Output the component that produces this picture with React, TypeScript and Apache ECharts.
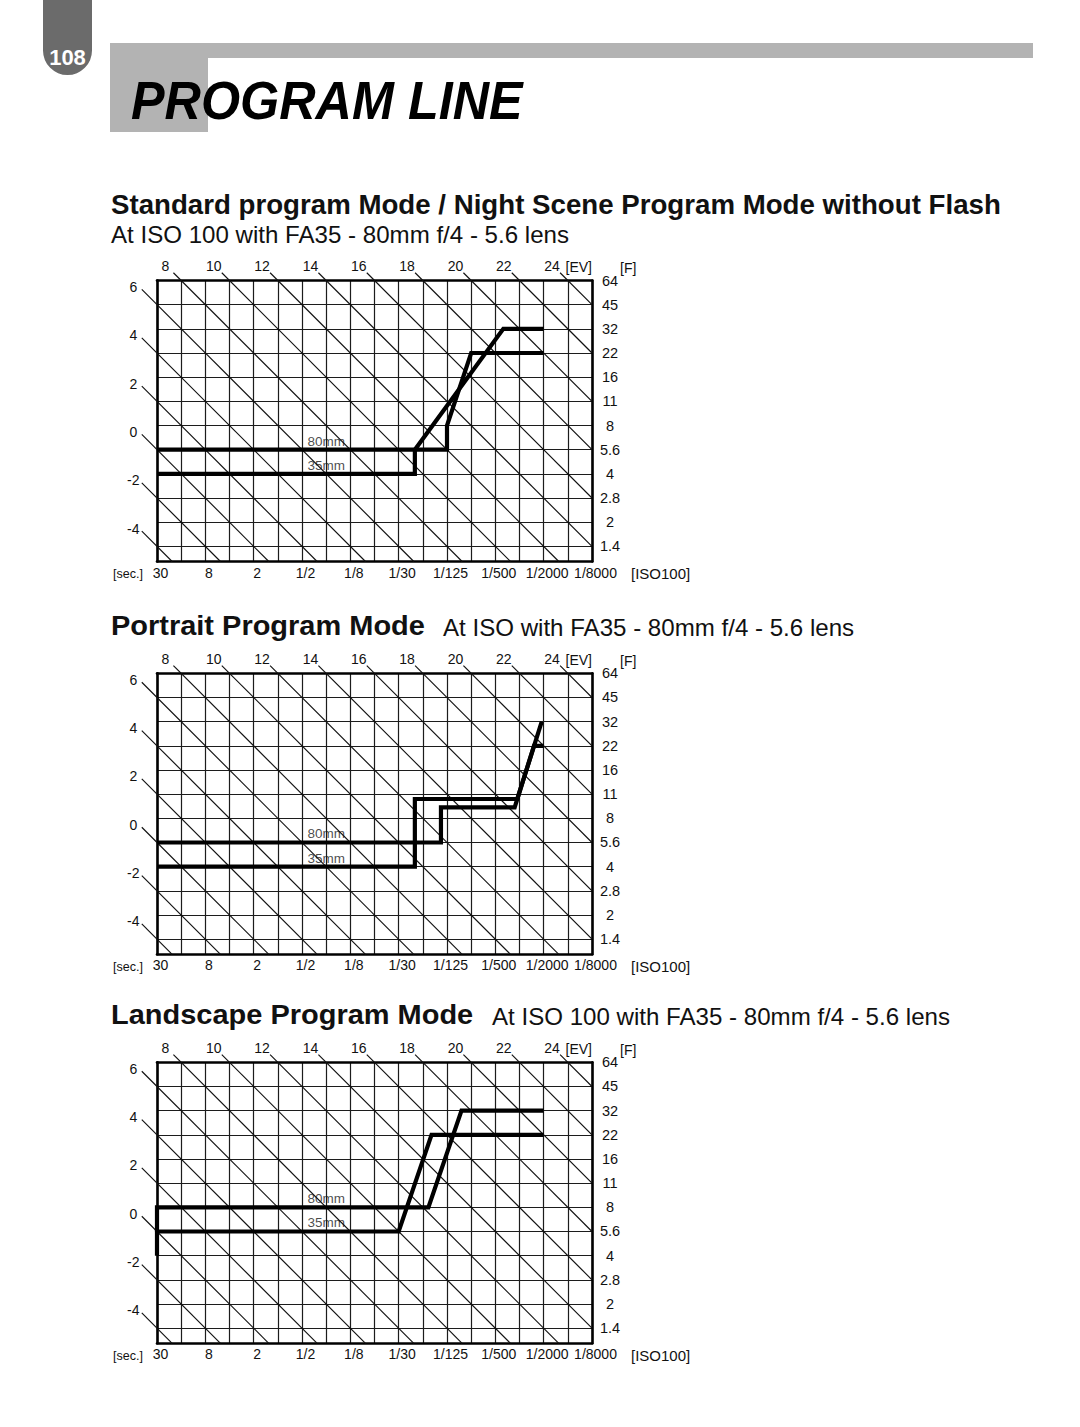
import React, { useEffect, useRef } from 'react';
import * as echarts from 'echarts';

// ---------- data ----------
const TV_MIN = -5;
const TV_MAX = 13;
const AV_TOP = 12;
const AV_BOTTOM = 0.374;

const shutterLabels = ['30', '8', '2', '1/2', '1/8', '1/30', '1/125', '1/500', '1/2000', '1/8000'];
const fNumberLabels = ['64', '45', '32', '22', '16', '11', '8', '5.6', '4', '2.8', '2', '1.4'];
const evTopLabels = [8, 10, 12, 14, 16, 18, 20, 22, 24];
const evLeftLabels = [6, 4, 2, 0, -2, -4];
const evLines = [-4, -2, 0, 2, 4, 6, 8, 10, 12, 14, 16, 18, 20, 22, 24];
const lensNames = ['35mm', '80mm'];
const lensLabelTv = 2;

// program lines: [Tv, Av]
const standard35 = [[-5, 4], [5.67, 4], [5.67, 5], [9.33, 10], [11, 10]];
const standard80 = [[-5, 5], [7, 5], [7, 6], [8, 9], [11, 9]];
const portrait35 = [[-5, 4], [5.67, 4], [5.67, 6.8], [9.91, 6.8], [10.92, 10]];
const portrait80 = [[-5, 5], [6.75, 5], [6.75, 6.45], [9.8, 6.45], [10.6, 9], [11, 9]];
const landscape35 = [[-5, 4], [-5, 5], [5, 5], [6.36, 9], [11, 9]];
const landscape80 = [[-5, 5], [-5, 6], [6.23, 6], [7.6, 10], [11, 10]];

const titles = [
  'Standard program Mode / Night Scene Program Mode without Flash',
  'Portrait Program Mode',
  'Landscape Program Mode',
];
const subtitles = [
  'At ISO 100 with FA35 - 80mm f/4 - 5.6 lens',
  'At ISO with FA35 - 80mm f/4 - 5.6 lens',
  'At ISO 100 with FA35 - 80mm f/4 - 5.6 lens',
];

// ---------- layout ----------
const FONT = '"Liberation Sans", Arial, Helvetica, sans-serif';
const GRID_LEFT = 157;
const GRID_W = 435;
const GRID_H = 281;
const panels = [
  { top: 280.5, lines: [standard35, standard80], titleX: 111, titleY: 204, titleScale: 0.988, subX: 111, subY: 234.5 },
  { top: 673.3, lines: [portrait35, portrait80], titleX: 111, titleY: 625, titleScale: 1.035, subX: 443, subY: 627 },
  { top: 1062.3, lines: [landscape35, landscape80], titleX: 111, titleY: 1014, titleScale: 1.035, subX: 492, subY: 1016 },
];
const EXT_TOP = 0.32;
const EXT_LEFT = 0.63;

function diagonal(ev: number): number[] {
  let start: number[];
  if (ev >= AV_TOP + TV_MIN) {
    const tv = ev - AV_TOP;
    start = [tv - EXT_TOP, AV_TOP + EXT_TOP];
  } else {
    const av = ev - TV_MIN;
    start = [TV_MIN - EXT_LEFT, av + EXT_LEFT];
  }
  const avRight = ev - TV_MAX;
  const end = avRight >= AV_BOTTOM ? [TV_MAX, avRight] : [ev - AV_BOTTOM, AV_BOTTOM];
  return [start[0], AV_TOP - start[1], end[0], AV_TOP - end[1], ev];
}

function avAt(line: number[][], tv: number): number {
  for (let i = 0; i < line.length - 1; i++) {
    const [x1, y1] = line[i];
    const [x2, y2] = line[i + 1];
    if (x2 !== x1 && tv >= Math.min(x1, x2) && tv <= Math.max(x1, x2)) {
      return y1 + ((tv - x1) / (x2 - x1)) * (y2 - y1);
    }
  }
  return line[0][1];
}

const toY = (av: number) => AV_TOP - av;

function buildOption() {
  const grid: any[] = [];
  const xAxis: any[] = [];
  const yAxis: any[] = [];
  const series: any[] = [];
  const graphic: any[] = [];
  const border = { show: true, onZero: false, lineStyle: { color: '#000', width: 2.6 } };
  const labelBase = { fontFamily: FONT, fontSize: 14, color: '#111' };
  const splitStyle = { show: true, lineStyle: { color: '#1c1c1c', width: 1.2 } };

  panels.forEach((p, i) => {
    grid.push({ left: GRID_LEFT, top: p.top, width: GRID_W, height: GRID_H, show: false });
    xAxis.push({
      gridIndex: i, type: 'value', min: TV_MIN, max: TV_MAX, interval: 1, position: 'bottom',
      axisLine: border, axisTick: { show: false }, splitLine: splitStyle,
      axisLabel: {
        ...labelBase, margin: 4, padding: [0, 0, 0, 7],
        formatter: (v: number) => {
          const k = v - TV_MIN;
          return Number.isInteger(k) && k % 2 === 0 ? shutterLabels[k / 2] ?? '' : '';
        },
      },
    });
    xAxis.push({
      gridIndex: i, type: 'value', min: TV_MIN, max: TV_MAX, interval: 1, position: 'top',
      axisLine: border, axisTick: { show: false }, splitLine: { show: false }, axisLabel: { show: false },
    });
    yAxis.push({
      gridIndex: i, type: 'value', inverse: true, min: 0, max: AV_TOP - AV_BOTTOM, interval: 1, position: 'left',
      axisLine: border, axisTick: { show: false }, splitLine: { show: false }, axisLabel: { show: false },
    });
    yAxis.push({
      gridIndex: i, type: 'value', inverse: true, min: 0, max: AV_TOP - AV_BOTTOM, interval: 1, position: 'right',
      axisLine: border, axisTick: { show: false }, splitLine: splitStyle,
      axisLabel: {
        ...labelBase, fontSize: 14.5, margin: 18, align: 'center',
        formatter: (v: number) => (Number.isInteger(v) ? fNumberLabels[v] ?? '' : ''),
      },
    });

    const xi = 2 * i;
    const yi = 2 * i + 1;
    // EV diagonals with their labels
    series.push({
      type: 'custom', xAxisIndex: xi, yAxisIndex: yi, clip: false, silent: true, z: 3,
      encode: { x: [0, 2], y: [1, 3] },
      data: evLines.map((ev) => diagonal(ev)),
      renderItem: (_params: any, api: any) => {
        const ev = api.value(4);
        const p0 = api.coord([api.value(0), api.value(1)]);
        const p1 = api.coord([api.value(2), api.value(3)]);
        const children: any[] = [
          { type: 'line', shape: { x1: p0[0], y1: p0[1], x2: p1[0], y2: p1[1] }, style: { stroke: '#111', lineWidth: 1.15 } },
        ];
        const isTop = evTopLabels.includes(ev);
        const isLeft = evLeftLabels.includes(ev);
        if (isTop || isLeft) {
          children.push({
            type: 'text',
            x: p0[0] + (isTop ? -8 : -8.5),
            y: p0[1] + (isTop ? -6.5 : -2.5),
            style: { text: String(ev), fontFamily: FONT, fontSize: 14, fill: '#111', align: 'center', verticalAlign: 'middle' },
          });
        }
        return { type: 'group', children };
      },
    });
    p.lines.forEach((line, li) => {
      series.push({
        type: 'line', xAxisIndex: xi, yAxisIndex: yi, symbol: 'none', silent: true,
        data: line.map(([tv, av]) => [tv, toY(av)]),
        lineStyle: { color: '#000', width: 4.2, join: 'miter', cap: 'butt' }, z: 6,
      });
      series.push({
        type: 'scatter', xAxisIndex: xi, yAxisIndex: yi, symbolSize: 1, silent: true,
        itemStyle: { color: 'rgba(0,0,0,0)' },
        data: [{ value: [lensLabelTv, toY(avAt(line, lensLabelTv))], name: lensNames[li] }],
        label: { show: true, formatter: '{b}', position: 'top', distance: 1, fontFamily: FONT, fontSize: 13.5, color: '#1a1a1a' },
        z: 2,
      });
    });

    // unit labels
    const right = GRID_LEFT + GRID_W;
    const bottom = p.top + GRID_H;
    graphic.push(
      { type: 'text', x: right, y: p.top - 13.5, style: { text: '[EV]', fontFamily: FONT, fontSize: 14, fill: '#111', align: 'right', verticalAlign: 'middle' } },
      { type: 'text', x: 620, y: p.top - 12.5, style: { text: '[F]', fontFamily: FONT, fontSize: 14, fill: '#111', align: 'left', verticalAlign: 'middle' } },
      { type: 'text', x: 113, y: bottom + 12.5, style: { text: '[sec.]', fontFamily: FONT, fontSize: 12.5, fill: '#111', align: 'left', verticalAlign: 'middle' } },
      { type: 'text', x: 631, y: bottom + 12, style: { text: '[ISO100]', fontFamily: FONT, fontSize: 15, fill: '#111', align: 'left', verticalAlign: 'middle' } },
      { type: 'text', x: p.titleX, y: p.titleY, scaleX: p.titleScale, style: { text: titles[i], fontFamily: FONT, fontSize: 28, fontWeight: 'bold', fill: '#111', align: 'left', verticalAlign: 'middle' } },
      { type: 'text', x: p.subX, y: p.subY, style: { text: subtitles[i], fontFamily: FONT, fontSize: 24.1, fill: '#111', align: 'left', verticalAlign: 'middle' } },
    );
  });

  // page header
  graphic.push(
    { type: 'rect', shape: { x: 43, y: -10, width: 49, height: 85, r: [0, 0, 24.5, 24.5] }, style: { fill: '#6b6b6b' } },
    { type: 'text', x: 67.5, y: 57.5, style: { text: '108', fontFamily: FONT, fontSize: 22, fontWeight: 'bold', fill: '#fff', align: 'center', verticalAlign: 'middle' } },
    { type: 'rect', shape: { x: 110, y: 43, width: 923, height: 15 }, style: { fill: '#b3b3b3' } },
    { type: 'rect', shape: { x: 110, y: 58, width: 98, height: 74 }, style: { fill: '#b3b3b3' } },
    { type: 'text', x: 131, y: 100.5, scaleX: 0.95, style: { text: 'PROGRAM LINE', fontFamily: FONT, fontSize: 53, fontWeight: 'bold', fontStyle: 'italic', fill: '#000', align: 'left', verticalAlign: 'middle' } },
  );

  return { animation: false, backgroundColor: '#fff', grid, xAxis, yAxis, series, graphic };
}

export default function App() {
  const ref = useRef<HTMLDivElement>(null);
  useEffect(() => {
    if (!ref.current) return;
    const chart = echarts.init(ref.current, null, { renderer: 'svg' });
    chart.setOption(buildOption() as any);
    return () => chart.dispose();
  }, []);
  return (
    <div
      ref={ref}
      style={{ position: 'absolute', left: 0, top: 0, width: 1080, height: 1427, background: '#fff' }}
    />
  );
}
